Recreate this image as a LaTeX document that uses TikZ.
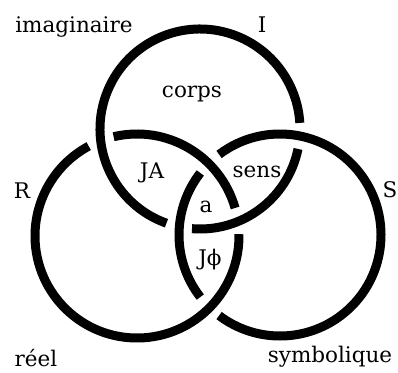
\documentclass[tikz,border=0pt]{standalone}
\usepackage{fontspec}
\setmainfont{DejaVu Serif}
\usepackage{tikz}
\usetikzlibrary{calc}

\begin{document}
\begin{tikzpicture}[
  x=1pt,y=-1pt,
  ring/.style={line width=9pt,draw=black},
  lbl/.style={font=\fontsize{21.5}{26}\selectfont,inner sep=0pt,anchor=base}
]
  \useasboundingbox (0,0) rectangle (398,372);
  % centres of the three rings
  \coordinate (cI) at (200,129);
  \coordinate (cR) at (137,236);
  \coordinate (cS) at (280,235);
  % imaginaire
  \draw[ring] ($(cI)+(11.5:100)$) arc[start angle=11.5,end angle=94.6,radius=100];
  \draw[ring] ($(cI)+(109.6:100)$) arc[start angle=109.6,end angle=356.5,radius=100];
  % reel
  \draw[ring] ($(cR)+(-1:102)$) arc[start angle=-1,end angle=241.75,radius=102];
  \draw[ring] ($(cR)+(-103.25:102)$) arc[start angle=-103.25,end angle=-15.95,radius=102];
  % symbolique
  \draw[ring] ($(cS)+(142.1:101)$) arc[start angle=142.1,end angle=217.9,radius=101];
  \draw[ring] ($(cS)+(232.9:101)$) arc[start angle=232.9,end angle=487.1,radius=101];
  % labels
  \node[lbl] (imag) at (74,32) {imaginaire};
  \node[lbl] (nameI) at (262,32) {I};
  \node[lbl] (corps) at (192,97) {corps};
  \node[lbl] (nameR) at (22,198) {R};
  \node[lbl] (nameS) at (390,197) {S};
  \node[lbl] (ja) at (152,178) {JA};
  \node[lbl] (sens) at (257,177) {sens};
  \node[lbl] (a) at (206,212) {a};
  \node[lbl] (jphi) at (210,265) {Jϕ};
  \node[lbl] (reel) at (36,366) {réel};
  \node[lbl] (symb) at (330,362) {symbolique};
\end{tikzpicture}
\end{document}
